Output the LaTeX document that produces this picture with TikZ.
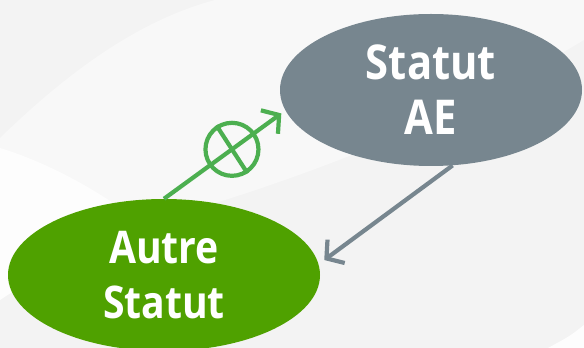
\documentclass[tikz,border=0pt]{standalone}
\usepackage{fontspec}
\setmainfont{Open Sans}[FakeStretch=0.87]
\usetikzlibrary{arrows.meta,shapes.geometric}
\definecolor{bgbase}{HTML}{F3F3F3}
\definecolor{bgband}{HTML}{F8F8F8}
\definecolor{bgwhite}{HTML}{FDFDFD}
\definecolor{aegray}{HTML}{77868F}
\definecolor{autregreen}{HTML}{4FA100}
\definecolor{arrowgreen}{HTML}{4CAF50}
\tikzset{
  statenode/.style={ellipse, inner sep=0pt, text=white, align=center},
  barb/.style={line width=4.2pt, -{Straight Barb[length=12pt,width=29pt]}},
}
\begin{document}
\begin{tikzpicture}[x=1pt,y=1pt]
\useasboundingbox (0,0) rectangle (584,348);
\begin{scope}
\clip (0,0) rectangle (584,348);
\fill[bgbase] (0,0) rectangle (584,348);
\fill[bgband] (0,210) .. controls (70,278) and (140,328) .. (215,348) -- (584,348) -- (584,308) .. controls (450,228) and (300,158) .. (0,86) -- cycle;
\fill[bgwhite] (0,200) .. controls (40,188) and (90,163) .. (130,133) -- (0,48) -- cycle;
\fill[bgwhite] (584,23) .. controls (570,12) .. (548,0) -- (584,0) -- cycle;
\node[statenode, fill=aegray, minimum width=302pt, minimum height=152pt,
  font=\bfseries\fontsize{48}{55}\selectfont] (ae) at (431,258) {Statut\\AE};
\node[statenode, fill=autregreen, minimum width=312pt, minimum height=152pt,
  font=\bfseries\fontsize{45}{55}\selectfont] (autre) at (164,73) {Autre\\Statut};
\draw[barb, draw=arrowgreen, shorten >=5pt] (autre.north) -- node[pos=0.56, circle, draw=arrowgreen, line width=4.2pt, minimum size=53pt, inner sep=0pt] (ring) {} (ae.188);
\draw[draw=arrowgreen, line width=4.2pt] (ring.123) -- (ring.303);
\draw[barb, draw=aegray, shorten >=7pt] (ae.286) -- (autre.4);
\end{scope}
\end{tikzpicture}
\end{document}
